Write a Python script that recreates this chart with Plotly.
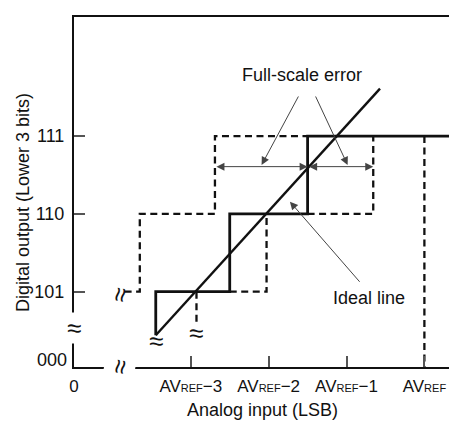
import plotly.graph_objects as go

# ******************* DATA ******************* #
# y axis: output codes (lower 3 bits), x axis: analog input in LSB
code_levels = [1, 2, 3]
code_labels = ["101", "110", "111"]

input_ticks = [0, 1.5, 2.5, 3.5, 4.5]
input_labels = ["0", "AV{s}REF{e}\u22123", "AV{s}REF{e}\u22122", "AV{s}REF{e}\u22121", "AV{s}REF{e}"]

# actual conversion characteristic (solid steps)
actual_x = [1.05, 1.05, 2.0, 2.0, 3.0, 3.0, 5.0]
actual_y = [0.44, 1, 1, 2, 2, 3, 3]

# ideal straight line
ideal_x = [1.05, 3.93]
ideal_y = [0.44, 3.61]

# ideal / reference steps (dashed), None breaks the path
dashed_x = [0.65, 0.845, 0.845, 1.81, 1.81, 3.0, None,
            1.573, 1.573, None,
            2.0, 2.473, 2.473, None,
            3.0, 3.843, 3.843, None,
            4.5, 4.5]
dashed_y = [1, 1, 2, 2, 3, 3, None,
            1, 0.6, None,
            1, 1, 2, None,
            2, 2, 3, None,
            3, 0.03]

FONT = "Liberation Sans, Arial, sans-serif"
INK = "#111111"

fig = go.Figure()

fig.add_trace(go.Scatter(
    x=dashed_x, y=dashed_y, mode="lines",
    line={"color": INK, "width": 2.3, "dash": "7px,4.5px"},
    connectgaps=False, hoverinfo="skip"
))
fig.add_trace(go.Scatter(
    x=actual_x, y=actual_y, mode="lines",
    line={"color": INK, "width": 2.8}, hoverinfo="skip"
))
fig.add_trace(go.Scatter(
    x=ideal_x, y=ideal_y, mode="lines",
    line={"color": INK, "width": 2.4}, hoverinfo="skip"
))

tick_text = [t.format(s="<span style='font-size:11px'>", e="</span>") for t in input_labels]

# thin arrows: (tip_x, tip_y, tail_x, tail_y, both ends)
arrows = [
    (3.0, 2.607, 1.81, 2.607, True),
    (3.843, 2.607, 3.0, 2.607, True),
    (2.409, 2.628, 2.892, 3.528, False),
    (3.514, 2.628, 3.094, 3.528, False),
    (2.773, 2.157, 3.685, 1.108, False),
]

annotations = []
for tx, ty, sx, sy, both in arrows:
    annotations.append(dict(
        x=tx, y=ty, ax=sx, ay=sy, axref="x", ayref="y", xref="x", yref="y",
        text="", showarrow=True, arrowside="end+start" if both else "end",
        arrowhead=2, arrowsize=1.6, arrowwidth=1, arrowcolor="#444"))

annotations += [
    dict(x=2.923, y=3.785, text="Full-scale error", showarrow=False),
    dict(x=3.792, y=0.915, text="Ideal line", showarrow=False),
    # "000" code at the broken axis
    dict(x=0, y=0.12, text="000", showarrow=False, xanchor="right", xshift=-5),
    # axis break marks
    dict(x=0, y=0.533, text="\u2248", showarrow=False, font={"size": 26},
         bgcolor="white", borderpad=0),
    dict(x=0.587, y=0.032, text="\u2248", showarrow=False, textangle=-80,
         font={"size": 26}, bgcolor="white", borderpad=0),
    dict(x=0.587, y=0.957, text="\u2248", showarrow=False, textangle=-80,
         font={"size": 26}),
    dict(x=1.05, y=0.36, text="\u2248", showarrow=False, font={"size": 26}),
    dict(x=1.573, y=0.47, text="\u2248", showarrow=False, font={"size": 26}),
    # axis titles
    dict(x=0, y=0.4686, xref="paper", yref="paper", xshift=-51, textangle=-90,
         xanchor="center", yanchor="middle",
         text="Digital output (Lower 3 bits)", showarrow=False),
    dict(x=0.5036, y=-0.124, xref="paper", yref="paper",
         xanchor="center", yanchor="middle",
         text="Analog input (LSB)", showarrow=False),
]

fig.update_layout(
    width=449,
    height=421,
    margin=dict(l=74, r=0, t=17, b=54),
    paper_bgcolor="white",
    plot_bgcolor="white",
    showlegend=False,
    font={"family": FONT, "color": INK, "size": 18},
    annotations=annotations,
)

fig.update_xaxes(
    range=[0, 4.816],
    tickvals=input_ticks,
    ticktext=tick_text,
    ticks="inside",
    ticklen=11,
    tickwidth=1.5,
    tickcolor="#555",
    tickfont={"size": 17},
    ticklabelstandoff=3,
    showline=True,
    linecolor=INK,
    linewidth=2,
    mirror=True,
    showgrid=False,
    zeroline=False,
    automargin=False,
)

fig.update_yaxes(
    range=[0.032, 4.53],
    tickvals=code_levels,
    ticktext=code_labels,
    ticks="inside",
    ticklen=11,
    tickwidth=1.5,
    tickcolor="#555",
    tickfont={"size": 18},
    ticklabelstandoff=4,
    showline=True,
    linecolor=INK,
    linewidth=2,
    showgrid=False,
    zeroline=False,
    automargin=False,
)

# page body has an 8px default margin; drop it so the figure fills the window
fig.write_html("out.html", config={"displayModeBar": False},
               post_script="document.body.style.margin='0';")
